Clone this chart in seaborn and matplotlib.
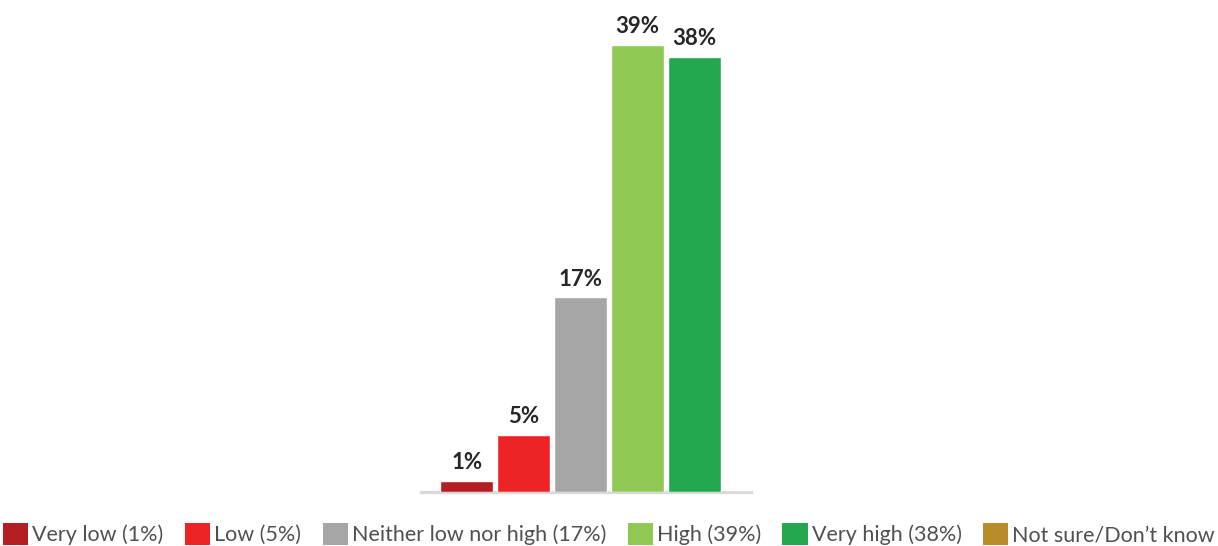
import matplotlib
matplotlib.use("Agg")
import matplotlib.pyplot as plt
import seaborn as sns
import pandas as pd
from matplotlib.patches import Patch

# Survey responses
categories = ["Very low", "Low", "Neither low nor high", "High", "Very high", "Not sure/Don\u2019t know"]
values = [1, 5, 17, 39, 38, 0]
legend_labels = ["Very low (1%)", "Low (5%)", "Neither low nor high (17%)",
                 "High (39%)", "Very high (38%)", "Not sure/Don\u2019t know"]
colors = ["#B41F24", "#EE2326", "#A6A6A6", "#8FC853", "#23A84F", "#B98C2A"]

sns.set_theme(style="white")
plt.rcParams["font.family"] = ["Lato", "DejaVu Sans"]

W, H = 1218, 546
fig = plt.figure(figsize=(W / 100, H / 100), dpi=100)
ax = fig.add_axes([421 / W, (H - 492) / H, 330 / W, 492 / H])

df = pd.DataFrame({"category": categories, "value": values})
sns.barplot(data=df, x="category", y="value", hue="category", palette=colors,
            width=0.93, legend=False, ax=ax, saturation=1, zorder=3)

ax.set_xlim(-0.8, 4.99)
ax.set_ylim(0, 492 / 11.46)
ax.set_xlabel("")
ax.set_ylabel("")
ax.set_xticks([])
ax.set_yticks([])
for s in ["top", "left", "right"]:
    ax.spines[s].set_visible(False)
ax.spines["bottom"].set_color("#D9D9D9")
ax.spines["bottom"].set_linewidth(2.3)
ax.spines["bottom"].set_zorder(2)

for i, v in enumerate(values):
    if v > 0:
        ax.annotate(f"{v}%", xy=(i, v), xytext=(0, 5.5), textcoords="offset points",
                    ha="center", va="bottom", fontsize=16, fontweight="bold",
                    color="#262626", annotation_clip=False)

handles = [Patch(facecolor=c, edgecolor="none") for c in colors]
fig.legend(handles, legend_labels, loc="lower center", bbox_to_anchor=(0.5, -0.018),
           ncol=6, frameon=False, handlelength=1.17, handleheight=1.17,
           handletextpad=0.18, columnspacing=1.0, labelcolor="#505050", borderpad=0,
           prop={"family": ["Lato", "DejaVu Sans"], "size": 15.5})

fig.savefig("out.png", dpi=100)
